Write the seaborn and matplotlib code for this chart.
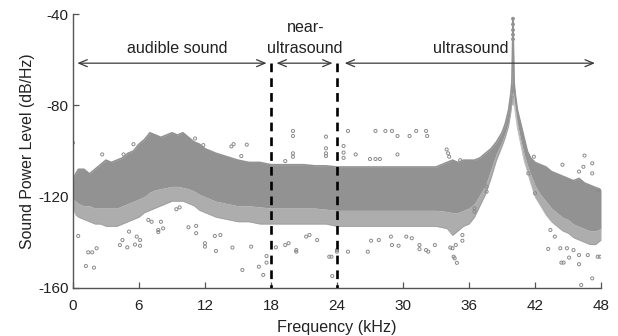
import matplotlib
matplotlib.use("Agg")
import matplotlib.pyplot as plt
import seaborn as sns
import pandas as pd

# ---- band envelope (kHz, dB/Hz) ----
band_freq = [0.0, 0.25, 0.5, 1.0, 1.5, 2.0, 2.5, 3.0, 3.5, 4.0, 4.5, 5.0, 5.5, 6.0, 6.5,
             7.0, 7.5, 8.0, 8.5, 9.0, 9.5, 10.0, 10.5, 11.0, 11.5, 12.0, 13.0, 14.0, 15.0,
             16.0, 17.0, 18.0, 19.0, 20.0, 21.0, 22.0, 23.0, 24.0, 25.0, 26.0, 27.0, 28.0,
             29.0, 30.0, 31.0, 32.0, 33.0, 34.0, 34.5, 35.0, 35.5, 36.0, 36.5, 37.0, 37.5,
             38.0, 38.5, 39.0, 39.3, 39.6, 39.8, 39.9, 39.97, 40.0, 40.03, 40.1, 40.2, 40.4,
             40.7, 41.0, 41.3, 41.6, 42.0, 42.5, 43.0, 43.5, 44.0, 44.5, 45.0, 45.5, 46.0,
             46.5, 47.0, 47.5, 48.0]
band_top = [-113, -110, -108, -108, -110, -108, -106, -104, -105, -104, -103, -101, -100,
            -97, -95, -92, -93, -94, -93, -92, -93, -92, -94, -96, -97, -99, -101, -102.5,
            -104, -105, -105, -106, -106, -106, -106, -106.5, -106.5, -107, -107, -107,
            -107, -107, -107, -107, -107, -107, -107, -105, -104, -105, -104, -104, -104,
            -103, -101, -99, -96, -92, -88, -82, -75, -70, -52, -42, -52, -70, -75, -82,
            -88, -94, -100, -103, -105, -106, -107, -109, -110, -111, -112, -113, -112,
            -114, -115, -116, -117]
# lower edge of the dense core
band_bottom = [-121, -122, -123, -124, -124, -125, -125, -125, -125, -125, -124, -123,
               -122, -121, -120, -118, -117, -116.5, -116, -115.5, -115.5, -116, -116.5,
               -117.5, -119, -120, -122, -123, -124, -124, -124.5, -125, -125, -125, -125,
               -125, -125.5, -126, -126, -126, -126, -126, -126, -126, -126, -126, -126,
               -126.5, -127, -127, -126, -125, -123, -119, -115, -108, -101, -96, -92, -87,
               -81, -77, -74, -79, -74, -77, -81, -88, -95, -101, -106, -110, -115, -119,
               -122, -125, -127, -129, -130, -132, -133, -134, -135, -135, -134]
# lower edge of the sparser fringe below the core
fringe_bottom = [-125, -128, -129, -130, -131, -132, -132, -133, -133, -133, -132, -131,
                 -130, -129, -127, -126, -125, -124, -123, -122, -122, -122, -123, -124,
                 -126, -127, -129, -130, -131, -131, -132, -132, -132, -132, -132, -132,
                 -132, -133, -133, -133, -133, -133, -133, -133, -133, -133, -133, -134,
                 -137, -135, -133, -132, -129, -124, -119, -112, -104, -98, -94, -89, -83,
                 -79, -76, -80, -76, -79, -83, -90, -97, -104, -109, -114, -120, -124,
                 -128, -131, -133, -135, -136, -138, -139, -140, -141, -141, -139]

# ---- scattered points outside the band ----
out_freq = [0.0, 2.66, 4.6, 5.5, 11.1, 0.48, 1.39, 1.75, 2.15, 1.18, 1.91, 4.27, 4.5, 4.94,
            5.64, 6.1, 5.8, 6.1, 5.1, 7.76, 7.76, 8.2, 10.5, 11.2, 11.2, 12.0, 12.0, 6.85,
            7.15, 8.0, 9.4, 9.7, 11.85, 14.4, 14.6, 15.8, 15.3, 20.0, 20.0, 23.0, 23.0, 23.0,
            23.0, 20.0, 20.0, 19.3, 13.0, 14.5, 15.4, 16.2, 16.9, 17.3, 17.6, 17.6, 18.45,
            19.3, 19.6, 20.3, 20.3, 21.2, 21.5, 22.2, 23.3, 23.57, 12.9, 13.4, 25.0, 27.5,
            28.4, 29.0, 29.5, 30.6, 31.2, 32.1, 32.2, 24.6, 24.6, 24.6, 25.7, 27.0, 27.5,
            27.9, 29.5, 33.97, 34.1, 34.2, 35.2, 23.5, 24.0, 24.0, 25.0, 26.8, 29.0, 29.6,
            31.5, 31.5, 32.1, 32.3, 32.9, 34.3, 34.5, 34.8, 34.6, 34.7, 34.9, 27.1, 27.8,
            28.9, 30.3, 30.8, 46.5, 47.2, 44.5, 46.0, 46.4, 47.2, 41.9, 41.4, 47.75, 35.4,
            35.4, 36.5, 36.5, 37.6, 37.6, 42.0, 43.2, 43.4, 43.8, 44.3, 44.4, 44.6, 45.1,
            46.0, 46.0, 46.8, 47.7, 47.9, 47.2, 46.2, 44.9, 45.5]
out_level = [-96.4, -101.5, -101.5, -97, -94.5, -137.2, -144.4, -144.4, -142.6, -150.4,
             -151.1, -141.2, -139, -142.2, -141, -141.5, -137.5, -139, -135.3, -134.6,
             -135.5, -133.9, -133.4, -132.8, -136, -140.4, -141.9, -130.2, -131, -131,
             -125.5, -124.7, -97.4, -98, -97, -97.2, -102.2, -91.2, -93.4, -93.7, -98.8,
             -101, -102.2, -101, -102.5, -104.4, -143.8, -142.3, -152.1, -141.9, -150.7,
             -154.3, -146, -148.9, -142.2, -141.2, -140.4, -143.4, -144.1, -137.5, -136.8,
             -139, -146.3, -154.8, -137.2, -136.8, -91.2, -91.2, -91.2, -91.2, -93.4, -93.4,
             -91.2, -91.2, -93.4, -97.8, -100.7, -103, -101.5, -103.5, -103.5, -103.5,
             -101.5, -99.3, -101, -102.5, -104, -146.3, -143.4, -144.1, -144.1, -144.1,
             -141.2, -141.5, -141.2, -143, -143.4, -144.1, -141.2, -142.3, -142.6, -141.2,
             -146.3, -147, -149, -139.3, -139, -137.5, -137.5, -138.2, -102, -105.4, -106,
             -109, -106.9, -109.8, -102.5, -109.8, -117, -136.8, -139.3, -126.6, -125.1,
             -115.6, -117.8, -118.5, -142.9, -134.6, -137.5, -142.6, -148.9, -148.9, -146.7,
             -149.6, -145.6, -145.6, -146.3, -146.3, -155.8, -158.7, -142.6, -143.4]

# ---- spike tip points ----
tip_freq = [40.0, 40.0, 40.0, 40.0, 40.0]
tip_level = [-42, -44.5, -47, -49, -51]

x_ticks = [0, 6, 12, 18, 24, 30, 36, 42, 48]
y_ticks = [-40, -80, -120, -160]
dash_freq = [18, 24]

band = pd.DataFrame({"f": band_freq, "top": band_top, "bottom": band_bottom,
                     "fringe": fringe_bottom})
outl = pd.DataFrame({"f": out_freq, "p": out_level})
tips = pd.DataFrame({"f": tip_freq, "p": tip_level})

sns.set_style("ticks")
plt.rcParams["font.family"] = ["Liberation Sans", "DejaVu Sans"]

gray = "#929292"
txt = "#222222"
axc = "#555555"

fig = plt.figure(figsize=(6.18, 3.36), dpi=100)
ax = fig.add_axes([0.118, 0.143, 0.8545, 0.815])

ax.fill_between(band["f"], band["fringe"], band["bottom"], color=gray, alpha=0.75,
                linewidth=0)
ax.fill_between(band["f"], band["bottom"], band["top"], color=gray, linewidth=0)
sns.lineplot(data=band, x="f", y="top", ax=ax, color=gray, linewidth=1.2,
             estimator=None, sort=False)
sns.lineplot(data=band, x="f", y="fringe", ax=ax, color=gray, linewidth=0.6,
             alpha=0.6, estimator=None, sort=False)
sns.scatterplot(data=outl, x="f", y="p", ax=ax, marker="o", s=5,
                facecolor="none", edgecolor="#8a8a8a", linewidth=0.7)
sns.scatterplot(data=tips, x="f", y="p", ax=ax, marker="o", s=4,
                facecolor="none", edgecolor="#8a8a8a", linewidth=0.7)

arrow_y = -61.5
for d in dash_freq:
    ax.plot([d, d], [arrow_y, -160], color="black", linewidth=1.9,
            linestyle=(0, (3.3, 2.3)), zorder=5)

arrow_kw = dict(arrowstyle="<->,head_length=0.6,head_width=0.25", color="#3a3a3a",
                lw=0.9, shrinkA=0, shrinkB=0)
for x0, x1 in [(0.4, 17.6), (18.5, 23.6), (24.7, 47.45)]:
    ax.annotate("", xy=(x1, arrow_y), xytext=(x0, arrow_y), arrowprops=arrow_kw, zorder=6)

fs = 11.6
ax.text(9.5, -55, "audible sound", ha="center", va="center", fontsize=fs, color=txt)
ax.text(21.2, -46, "near-", ha="center", va="center", fontsize=fs, color=txt)
ax.text(21.1, -55, "ultrasound", ha="center", va="center", fontsize=fs, color=txt)
ax.text(36.2, -55, "ultrasound", ha="center", va="center", fontsize=fs, color=txt)

ax.set_xlim(0, 48)
ax.set_ylim(-160, -40)
ax.set_xticks(x_ticks)
ax.set_yticks(y_ticks)
ax.set_xticklabels([str(v) for v in x_ticks])
ax.set_yticklabels([str(v) for v in y_ticks])
ax.set_xlabel("Frequency (kHz)", fontsize=11.6, color=txt, labelpad=5)
ax.set_ylabel("Sound Power Level (dB/Hz)", fontsize=11.4, color=txt, labelpad=2)
ax.tick_params(direction="in", length=4, width=0.9, color=axc, labelsize=11,
               labelcolor=txt)
ax.tick_params(axis="x", pad=8)
ax.tick_params(axis="y", pad=3)
sns.despine(ax=ax)
for s in ["left", "bottom"]:
    ax.spines[s].set_color(axc)
    ax.spines[s].set_linewidth(1.0)

fig.savefig("out.png", dpi=100)
